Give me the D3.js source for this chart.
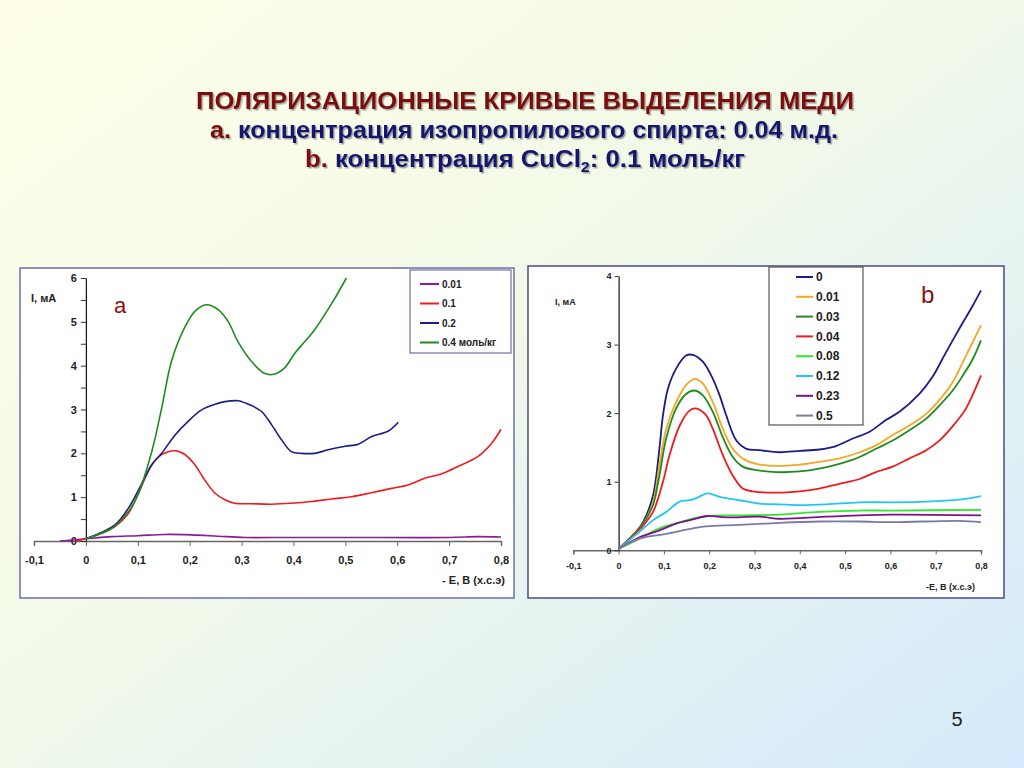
<!DOCTYPE html>
<html>
<head>
<meta charset="utf-8">
<script src="https://cdn.jsdelivr.net/npm/d3@7/dist/d3.min.js"></script>
<style>
  html, body { margin: 0; padding: 0; }
  body { width: 1024px; height: 768px; overflow: hidden; font-family: "Liberation Sans", Arial, sans-serif; }
  svg text { font-family: "Liberation Sans", Arial, sans-serif; }
</style>
</head>
<body>
<svg id="slide" width="1024" height="768"></svg>
<script>
// ---- data: panel a (CuCl2 concentration, mol/kg) ----
const seriesA = ['0.01', '0.1', '0.2', '0.4 моль/кг'];
const colorsA = ['#8b1a9a', '#ee1c1c', '#1c1c86', '#1e8c1e'];
const a001 = [[-0.05,0],[-0.028,0.02],[0,0.05],[0.05,0.1],[0.1,0.12],[0.152,0.15],[0.204,0.14],[0.255,0.11],[0.306,0.08],[0.383,0.08],[0.5,0.08],[0.7,0.08],[0.756,0.1],[0.8,0.09]];
const a01 = [[-0.02,0],[0,0.05],[0.056,0.33],[0.082,0.63],[0.1,1.05],[0.127,1.74],[0.146,1.97],[0.172,2.06],[0.19,1.98],[0.21,1.74],[0.229,1.39],[0.249,1.09],[0.268,0.94],[0.287,0.86],[0.319,0.85],[0.358,0.84],[0.396,0.86],[0.435,0.9],[0.473,0.96],[0.512,1.01],[0.55,1.1],[0.589,1.2],[0.621,1.28],[0.653,1.43],[0.685,1.53],[0.717,1.7],[0.756,1.93],[0.782,2.23],[0.8,2.55]];
const a02 = [[0,0.05],[0.056,0.37],[0.082,0.75],[0.1,1.13],[0.127,1.74],[0.146,2.0],[0.172,2.42],[0.197,2.73],[0.223,2.99],[0.249,3.12],[0.268,3.18],[0.293,3.2],[0.313,3.12],[0.338,2.96],[0.358,2.65],[0.377,2.31],[0.396,2.04],[0.416,2.0],[0.441,2.0],[0.467,2.08],[0.5,2.16],[0.525,2.21],[0.55,2.38],[0.583,2.51],[0.602,2.71]];
const a04 = [[0,0.05],[0.05,0.29],[0.082,0.67],[0.1,1.05],[0.127,2.04],[0.146,3.03],[0.165,4.1],[0.19,4.86],[0.21,5.24],[0.232,5.39],[0.255,5.28],[0.274,5.01],[0.293,4.55],[0.319,4.1],[0.345,3.82],[0.364,3.81],[0.383,3.95],[0.403,4.29],[0.422,4.55],[0.441,4.82],[0.46,5.16],[0.48,5.54],[0.502,6.0]];
const dataA = [a001, a01, a02, a04];

// ---- data: panel b (isopropanol mole fraction) ----
const seriesB = ['0', '0.01', '0.03', '0.04', '0.08', '0.12', '0.23', '0.5'];
const colorsB = ['#1c1c86', '#f5a623', '#1e8c1e', '#ee1c1c', '#33e633', '#22c8f0', '#80108a', '#7a7aa8'];
const b0 = [[0,0.02],[0.032,0.22],[0.054,0.41],[0.076,0.8],[0.09,1.48],[0.098,1.97],[0.109,2.36],[0.127,2.65],[0.149,2.84],[0.164,2.85],[0.186,2.75],[0.208,2.5],[0.223,2.26],[0.2375,1.97],[0.26,1.6],[0.282,1.48],[0.311,1.46],[0.355,1.43],[0.4,1.45],[0.443,1.47],[0.48,1.52],[0.517,1.63],[0.554,1.73],[0.59,1.9],[0.62,2.02],[0.664,2.28],[0.693,2.53],[0.723,2.89],[0.752,3.23],[0.782,3.57],[0.8,3.79]];
const b001 = [[0,0.02],[0.054,0.39],[0.076,0.7],[0.09,1.24],[0.105,1.77],[0.127,2.16],[0.149,2.41],[0.168,2.5],[0.186,2.43],[0.208,2.16],[0.23,1.77],[0.252,1.48],[0.274,1.34],[0.304,1.26],[0.348,1.23],[0.4,1.25],[0.443,1.29],[0.4875,1.34],[0.532,1.43],[0.568,1.53],[0.605,1.68],[0.642,1.82],[0.679,1.99],[0.708,2.19],[0.7375,2.45],[0.767,2.84],[0.8,3.28]];
const b003 = [[0,0.02],[0.054,0.39],[0.076,0.66],[0.09,1.09],[0.105,1.63],[0.127,2.07],[0.149,2.28],[0.168,2.33],[0.186,2.26],[0.208,2.02],[0.23,1.65],[0.252,1.36],[0.274,1.22],[0.304,1.17],[0.348,1.14],[0.4,1.15],[0.443,1.19],[0.4875,1.26],[0.532,1.36],[0.568,1.48],[0.605,1.6],[0.642,1.75],[0.679,1.92],[0.708,2.11],[0.7375,2.33],[0.76,2.55],[0.782,2.79],[0.8,3.06]];
const b004 = [[0,0.02],[0.054,0.36],[0.076,0.56],[0.098,1.0],[0.1125,1.39],[0.135,1.82],[0.157,2.04],[0.171,2.07],[0.193,1.97],[0.208,1.77],[0.23,1.39],[0.252,1.09],[0.274,0.9],[0.296,0.86],[0.348,0.84],[0.4,0.86],[0.443,0.9],[0.4875,0.97],[0.532,1.04],[0.568,1.14],[0.605,1.22],[0.642,1.34],[0.679,1.46],[0.708,1.6],[0.745,1.87],[0.767,2.07],[0.8,2.55]];
const b008 = [[0,0.02],[0.046,0.17],[0.09,0.32],[0.135,0.41],[0.193,0.5],[0.267,0.51],[0.355,0.52],[0.443,0.56],[0.532,0.58],[0.6,0.58],[0.8,0.59]];
const b012 = [[0,0.02],[0.046,0.27],[0.076,0.44],[0.105,0.56],[0.135,0.71],[0.157,0.73],[0.171,0.76],[0.197,0.83],[0.223,0.78],[0.267,0.73],[0.311,0.68],[0.355,0.67],[0.4,0.66],[0.458,0.67],[0.532,0.7],[0.605,0.7],[0.679,0.71],[0.752,0.74],[0.8,0.79]];
const b023 = [[0,0.02],[0.046,0.19],[0.09,0.29],[0.127,0.39],[0.164,0.45],[0.197,0.5],[0.2375,0.48],[0.311,0.49],[0.355,0.46],[0.4,0.47],[0.458,0.49],[0.532,0.51],[0.605,0.52],[0.8,0.51]];
const b05 = [[0,0.02],[0.046,0.17],[0.105,0.24],[0.164,0.32],[0.193,0.35],[0.267,0.37],[0.355,0.4],[0.443,0.42],[0.532,0.42],[0.605,0.41],[0.752,0.43],[0.8,0.41]];
const dataB = [b0, b001, b003, b004, b008, b012, b023, b05];

const xTicks = [-0.1, 0, 0.1, 0.2, 0.3, 0.4, 0.5, 0.6, 0.7, 0.8];
const yTicksA = [0, 1, 2, 3, 4, 5, 6];
const yTicksB = [0, 1, 2, 3, 4];

const fmt = d => d === 0 ? '0' : String(d).replace('.', ',');

const svg = d3.select('#slide');

// background gradient
const defs = svg.append('defs');
const grad = defs.append('linearGradient').attr('id', 'bg')
  .attr('x1', '0%').attr('y1', '0%').attr('x2', '100%').attr('y2', '100%');
grad.append('stop').attr('offset', '0%').attr('stop-color', '#ffffe8');
grad.append('stop').attr('offset', '45%').attr('stop-color', '#f2f9e8');
grad.append('stop').attr('offset', '100%').attr('stop-color', '#d4eafc');
const shadow = defs.append('filter').attr('id', 'shadow')
  .attr('x', '-5%').attr('y', '-20%').attr('width', '110%').attr('height', '150%');
shadow.append('feDropShadow').attr('dx', 1.5).attr('dy', 1.5).attr('stdDeviation', 0.6)
  .attr('flood-color', '#000').attr('flood-opacity', 0.35);

svg.append('rect').attr('width', 1024).attr('height', 768).attr('fill', 'url(#bg)');

// title
const $title = svg.append('g').attr('filter', 'url(#shadow)')
  .style('font-weight', 'bold').attr('text-anchor', 'middle');
$title.append('text').attr('x', 525).attr('y', 109).attr('font-size', 24)
  .attr('fill', '#7a0c0c').attr('textLength', 658).attr('lengthAdjust', 'spacingAndGlyphs')
  .text('ПОЛЯРИЗАЦИОННЫЕ КРИВЫЕ ВЫДЕЛЕНИЯ МЕДИ');
const t2 = $title.append('text').attr('x', 524).attr('y', 138).attr('font-size', 24)
  .attr('textLength', 628).attr('lengthAdjust', 'spacingAndGlyphs');
t2.append('tspan').attr('fill', '#7a0c0c').text('a.');
t2.append('tspan').attr('fill', '#17176e').text(' концентрация изопропилового спирта: 0.04 м.д.');
const t3 = $title.append('text').attr('x', 525).attr('y', 167).attr('font-size', 24)
  .attr('textLength', 440).attr('lengthAdjust', 'spacingAndGlyphs');
t3.append('tspan').attr('fill', '#7a0c0c').text('b.');
t3.append('tspan').attr('fill', '#17176e').text(' концентрация CuCl');
t3.append('tspan').attr('fill', '#17176e').attr('font-size', 15).attr('dy', 5).text('2');
t3.append('tspan').attr('fill', '#17176e').attr('dy', -5).text(': 0.1 моль/кг');

// page number
svg.append('text').attr('x', 957).attr('y', 726).attr('font-size', 20)
  .attr('text-anchor', 'middle').attr('fill', '#222').text('5');

function drawPanel(cfg) {
  const g = svg.append('g');
  g.append('rect').attr('x', cfg.box[0]).attr('y', cfg.box[1])
    .attr('width', cfg.box[2]).attr('height', cfg.box[3])
    .attr('fill', '#fff').attr('stroke', cfg.boxColor).attr('stroke-width', 1.5);

  const x = d3.scaleLinear().domain([-0.1, 0.8]).range(cfg.xr);
  const y = d3.scaleLinear().domain([0, cfg.ymax]).range(cfg.yr);

  // x axis
  const xAxis = d3.axisBottom(x).tickValues(xTicks).tickFormat(fmt)
    .tickSize(cfg.tick).tickPadding(cfg.xPad);
  const gx = g.append('g').attr('transform', `translate(0,${y(0)})`).call(xAxis);
  gx.select('.domain').attr('stroke', '#666').attr('stroke-width', 1.5);
  gx.selectAll('.tick line').attr('stroke', '#666');
  gx.selectAll('text').attr('font-size', cfg.fs).attr('font-weight', 'bold')
    .attr('fill', '#222').attr('font-family', 'Liberation Sans, Arial, sans-serif');

  // y axis (with minor ticks)
  const minor = d3.range(0, cfg.ymax + 0.01, 0.5).filter(v => v % 1 !== 0);
  if (cfg.minor) {
    g.append('g').attr('transform', `translate(${x(0)},0)`)
      .call(d3.axisLeft(y).tickValues(minor).tickFormat('').tickSize(cfg.tick))
      .call(s => s.select('.domain').remove())
      .selectAll('.tick line').attr('stroke', '#333');
  }
  const gy = g.append('g').attr('transform', `translate(${x(0)},0)`)
    .call(d3.axisLeft(y).tickValues(cfg.yTicks).tickFormat(d3.format('d'))
      .tickSize(cfg.tick).tickSizeOuter(0).tickPadding(cfg.yPad));
  gy.select('.domain').attr('stroke', '#111').attr('stroke-width', 1.2);
  gy.selectAll('.tick line').attr('stroke', '#333');
  gy.selectAll('text').attr('font-size', cfg.fs).attr('font-weight', 'bold')
    .attr('fill', '#222').attr('font-family', 'Liberation Sans, Arial, sans-serif');

  // curves
  const line = d3.line().x(d => x(d[0])).y(d => y(d[1])).curve(d3.curveCatmullRom.alpha(0.5));
  g.append('g').selectAll('path').data(cfg.data).join('path')
    .attr('d', line).attr('fill', 'none')
    .attr('stroke', (d, i) => cfg.colors[i]).attr('stroke-width', cfg.lw);

  // axis labels
  g.append('text').attr('x', cfg.yLabel[0]).attr('y', cfg.yLabel[1])
    .attr('font-size', cfg.labFs).attr('font-weight', 'bold').attr('fill', '#222').text('I, мА');
  g.append('text').attr('x', cfg.xLabel[0]).attr('y', cfg.xLabel[1]).attr('text-anchor', 'end')
    .attr('font-size', cfg.labFs).attr('font-weight', 'bold').attr('fill', '#222').text(cfg.xTitle);
  g.append('text').attr('x', cfg.letter[0]).attr('y', cfg.letter[1])
    .attr('font-size', cfg.letterFs).attr('fill', '#8b1010').text(cfg.letterText);

  // legend
  const lg = cfg.legend;
  g.append('rect').attr('x', lg.box[0]).attr('y', lg.box[1]).attr('width', lg.box[2]).attr('height', lg.box[3])
    .attr('fill', '#fff').attr('stroke', lg.stroke).attr('stroke-width', 1.2);
  const items = g.append('g').selectAll('g').data(cfg.names).join('g')
    .attr('transform', (d, i) => `translate(0,${lg.y0 + i * lg.dy})`);
  items.append('line').attr('x1', lg.x1).attr('x2', lg.x2)
    .attr('stroke', (d, i) => cfg.colors[i]).attr('stroke-width', 2);
  items.append('text').attr('x', lg.tx).attr('dy', '0.35em')
    .attr('font-size', lg.fs).attr('font-weight', 'bold').attr('fill', '#222').text(d => d);
}

drawPanel({
  box: [20, 268, 494, 330], boxColor: '#6e6ea8',
  xr: [34, 501], yr: [541, 278], ymax: 6, yTicks: yTicksA, minor: true,
  tick: 5, xPad: 10, yPad: 4, fs: 11, lw: 1.6,
  data: dataA, colors: colorsA, names: seriesA,
  yLabel: [31, 302], xLabel: [505, 584], xTitle: '- E, B (х.с.э)', labFs: 11,
  letter: [114, 313], letterFs: 22, letterText: 'a',
  legend: { box: [410, 270, 101, 83], stroke: '#6e6ea8', y0: 284, dy: 19.5, x1: 420, x2: 439, tx: 442, fs: 10 }
});

drawPanel({
  box: [528, 266, 476, 332], boxColor: '#4a4a8a',
  xr: [573.3, 981], yr: [550.3, 276], ymax: 4, yTicks: yTicksB, minor: false,
  tick: 4, xPad: 8, yPad: 3, fs: 9, lw: 1.8,
  data: dataB, colors: colorsB, names: seriesB,
  yLabel: [555, 305], xLabel: [975, 590], xTitle: '-E, B (х.с.э)', labFs: 9,
  letter: [921, 303], letterFs: 24, letterText: 'b',
  legend: { box: [769, 267, 94, 158], stroke: '#555', y0: 277, dy: 19.8, x1: 796, x2: 813, tx: 816, fs: 12 }
});
</script>
</body>
</html>
